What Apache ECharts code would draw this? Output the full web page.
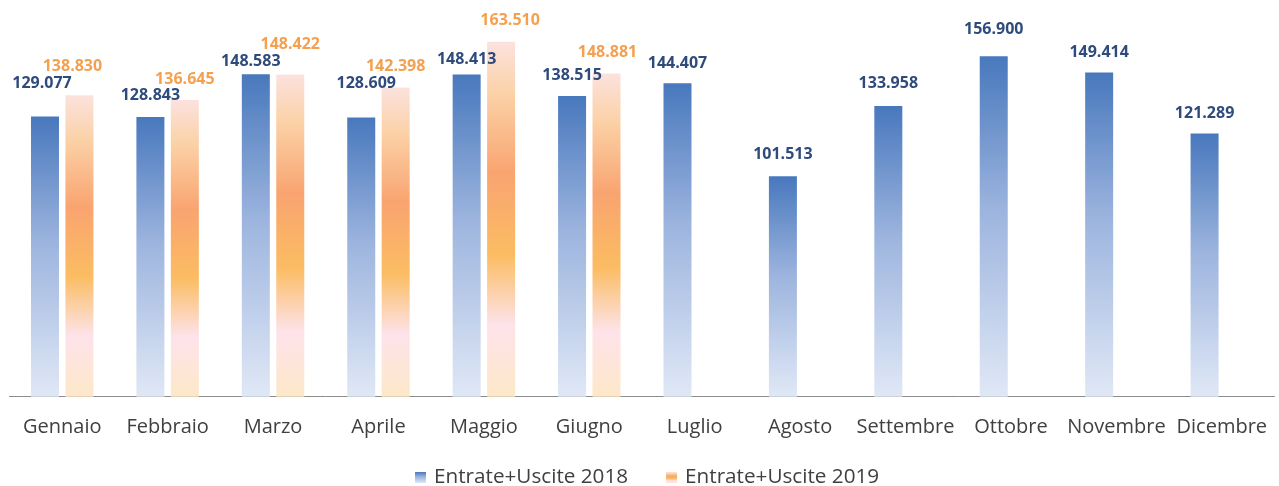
<!DOCTYPE html>
<html>
<head>
<meta charset="utf-8">
<script src="https://cdn.jsdelivr.net/npm/echarts@6/dist/echarts.min.js"></script>
<style>
html,body{margin:0;padding:0;background:#fff;}
#chart{width:1279px;height:486px;}
</style>
</head>
<body>
<div id="chart"></div>
<script>
const months = ['Gennaio','Febbraio','Marzo','Aprile','Maggio','Giugno','Luglio','Agosto','Settembre','Ottobre','Novembre','Dicembre'];
const seriesNames = ['Entrate+Uscite 2018','Entrate+Uscite 2019'];
const values2018 = [129077, 128843, 148583, 128609, 148413, 138515, 144407, 101513, 133958, 156900, 149414, 121289];
const values2019 = [138830, 136645, 148422, 142398, 163510, 148881, null, null, null, null, null, null];

// label placement tweaks (layout only) [dx, dy]
const labelShift2018 = [[-3,-12],[0,-1],[-5,8],[5,-13],[0,6],[0,0],[0,1],[0,-1],[0,-1],[0,-6],[0,1],[0,1]];
const labelShift2019 = [[-7,-8],[0,0],[0,-9],[0,0],[9,0],[1,0],[0,0],[0,0],[0,0],[0,0],[0,0],[0,0]];

function fmt(v){ return String(v).replace(/\B(?=(\d{3})+(?!\d))/g, '.'); }

const blueGrad = new echarts.graphic.LinearGradient(0,0,0,1,[
  {offset:0, color:'#4878bd'},
  {offset:0.45, color:'#9cb4de'},
  {offset:1, color:'#e0e8f6'}
]);
const orangeGrad = new echarts.graphic.LinearGradient(0,0,0,1,[
  {offset:0, color:'#fce2de'},
  {offset:0.15, color:'#fbd1a6'},
  {offset:0.37, color:'#f9a470'},
  {offset:0.6, color:'#fbbc62'},
  {offset:0.8, color:'#fde3ea'},
  {offset:1, color:'#fde8c8'}
]);

function build(values, shifts){
  return values.map((v,i)=> v==null ? null : ({value:v, label:{offset:shifts[i]}}));
}

const chart = echarts.init(document.getElementById('chart'));
chart.setOption({
  animation:false,
  backgroundColor:'#ffffff',
  grid:{left:9.5, right:4.5, top:6, bottom:89.3, containLabel:false},
  legend:{
    data:seriesNames,
    top:467, left:415, padding:0,
    icon:'rect', itemWidth:11, itemHeight:11, itemGap:38,
    textStyle:{fontFamily:'Open Sans', fontSize:20.7, color:'#404040', padding:[0,0,0,3]}
  },
  xAxis:{
    type:'category', data:months,
    axisTick:{show:false},
    axisLine:{lineStyle:{color:'#8c8c8c', width:1}},
    axisLabel:{interval:0, margin:21, fontFamily:'Open Sans', fontSize:20, color:'#404040'}
  },
  yAxis:{type:'value', min:0, max:180000, show:false, splitLine:{show:false}},
  series:[
    {
      name:seriesNames[0], type:'bar', barWidth:28, barGap:'23%',
      data:build(values2018, labelShift2018),
      itemStyle:{color:blueGrad},
      label:{show:true, position:'top', distance:13, formatter:p=>fmt(p.value),
        fontFamily:'Open Sans', fontWeight:'bold', fontSize:16, color:'#2f4b7c'}
    },
    {
      name:seriesNames[1], type:'bar', barWidth:28,
      data:build(values2019, labelShift2019),
      itemStyle:{color:orangeGrad},
      label:{show:true, position:'top', distance:13, formatter:p=>fmt(p.value),
        fontFamily:'Open Sans', fontWeight:'bold', fontSize:16, color:'#f5a04e'}
    }
  ]
});
</script>
</body>
</html>
